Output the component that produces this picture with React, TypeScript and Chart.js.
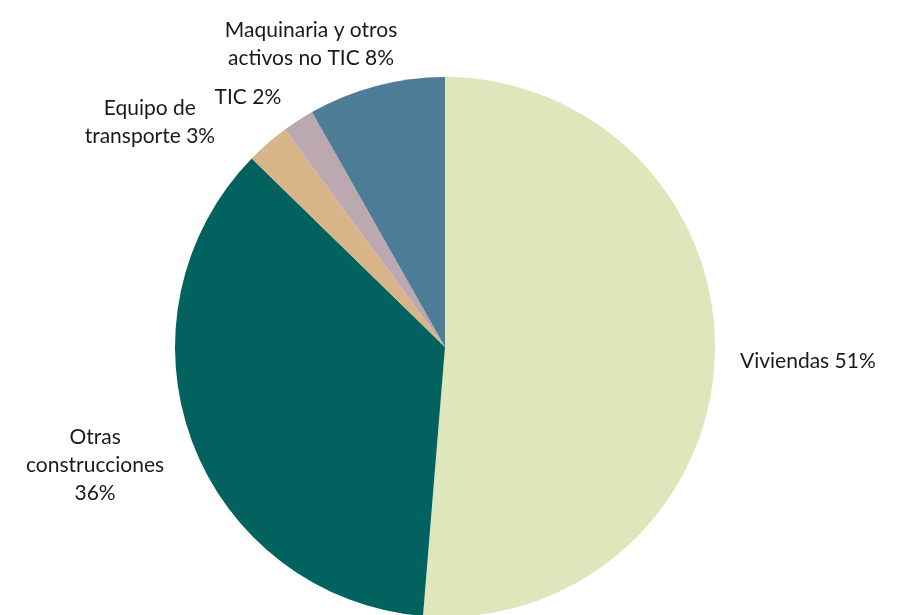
import React, { useEffect, useRef } from "react";
import { Chart, registerables } from "chart.js";

Chart.register(...registerables);

const categories = [
  "Viviendas",
  "Otras construcciones",
  "Equipo de transporte",
  "TIC",
  "Maquinaria y otros activos no TIC",
];
const shares = [51.3, 36.0, 2.6, 1.9, 8.2];
const labelLines = [
  ["Viviendas 51%"],
  ["Otras", "construcciones", "36%"],
  ["Equipo de", "transporte 3%"],
  ["TIC 2%"],
  ["Maquinaria y otros", "activos no TIC 8%"],
];
const colors = ["#dfe6bb", "#02625f", "#d8b489", "#bba8b0", "#4c7c96"];

// label centres relative to pie centre, in units of radius
const LABEL_LAYOUT: [number, number][] = [
  [1.344, 0.052],
  [-1.296, 0.437],
  [-1.093, -0.833],
  [-0.73, -0.926],
  [-0.496, -1.122],
];

const labelPlugin = {
  id: "outsideLabels",
  afterDraw(chart: any) {
    const ctx = chart.ctx;
    const meta = chart.getDatasetMeta(0);
    const arc0 = meta.data[0];
    if (!arc0) return;
    const cx = arc0.x;
    const cy = arc0.y;
    const r = arc0.outerRadius;
    ctx.save();
    ctx.fillStyle = "#1a1a1a";
    ctx.font = "21px Lato";
    ctx.textAlign = "center";
    ctx.textBaseline = "middle";
    const lh = 28;
    labelLines.forEach((lines, i) => {
      const [fx, fy] = LABEL_LAYOUT[i];
      const x = cx + fx * r;
      const y = cy + fy * r;
      const top = y - ((lines.length - 1) * lh) / 2;
      lines.forEach((t, j) => ctx.fillText(t, x, top + j * lh));
    });
    ctx.restore();
  },
};

export default function App() {
  const ref = useRef<HTMLCanvasElement>(null);
  useEffect(() => {
    document.body.style.margin = "0";
    document.body.style.overflow = "hidden";
    const chart = new Chart(ref.current!, {
      type: "pie",
      data: {
        labels: categories,
        datasets: [
          {
            data: shares,
            backgroundColor: colors,
            borderWidth: 0,
          },
        ],
      },
      options: {
        animation: false,
        responsive: false,
        devicePixelRatio: 1,
        layout: { padding: { left: 175, right: 185, top: 77, bottom: 23 } },
        plugins: { legend: { display: false }, tooltip: { enabled: false } },
      },
      plugins: [labelPlugin],
    });
    return () => chart.destroy();
  }, []);
  return (
    <div style={{ position: "fixed", left: 0, top: 0, width: 900, height: 640, background: "#fff" }}>
      <canvas ref={ref} width={900} height={640} />
    </div>
  );
}
